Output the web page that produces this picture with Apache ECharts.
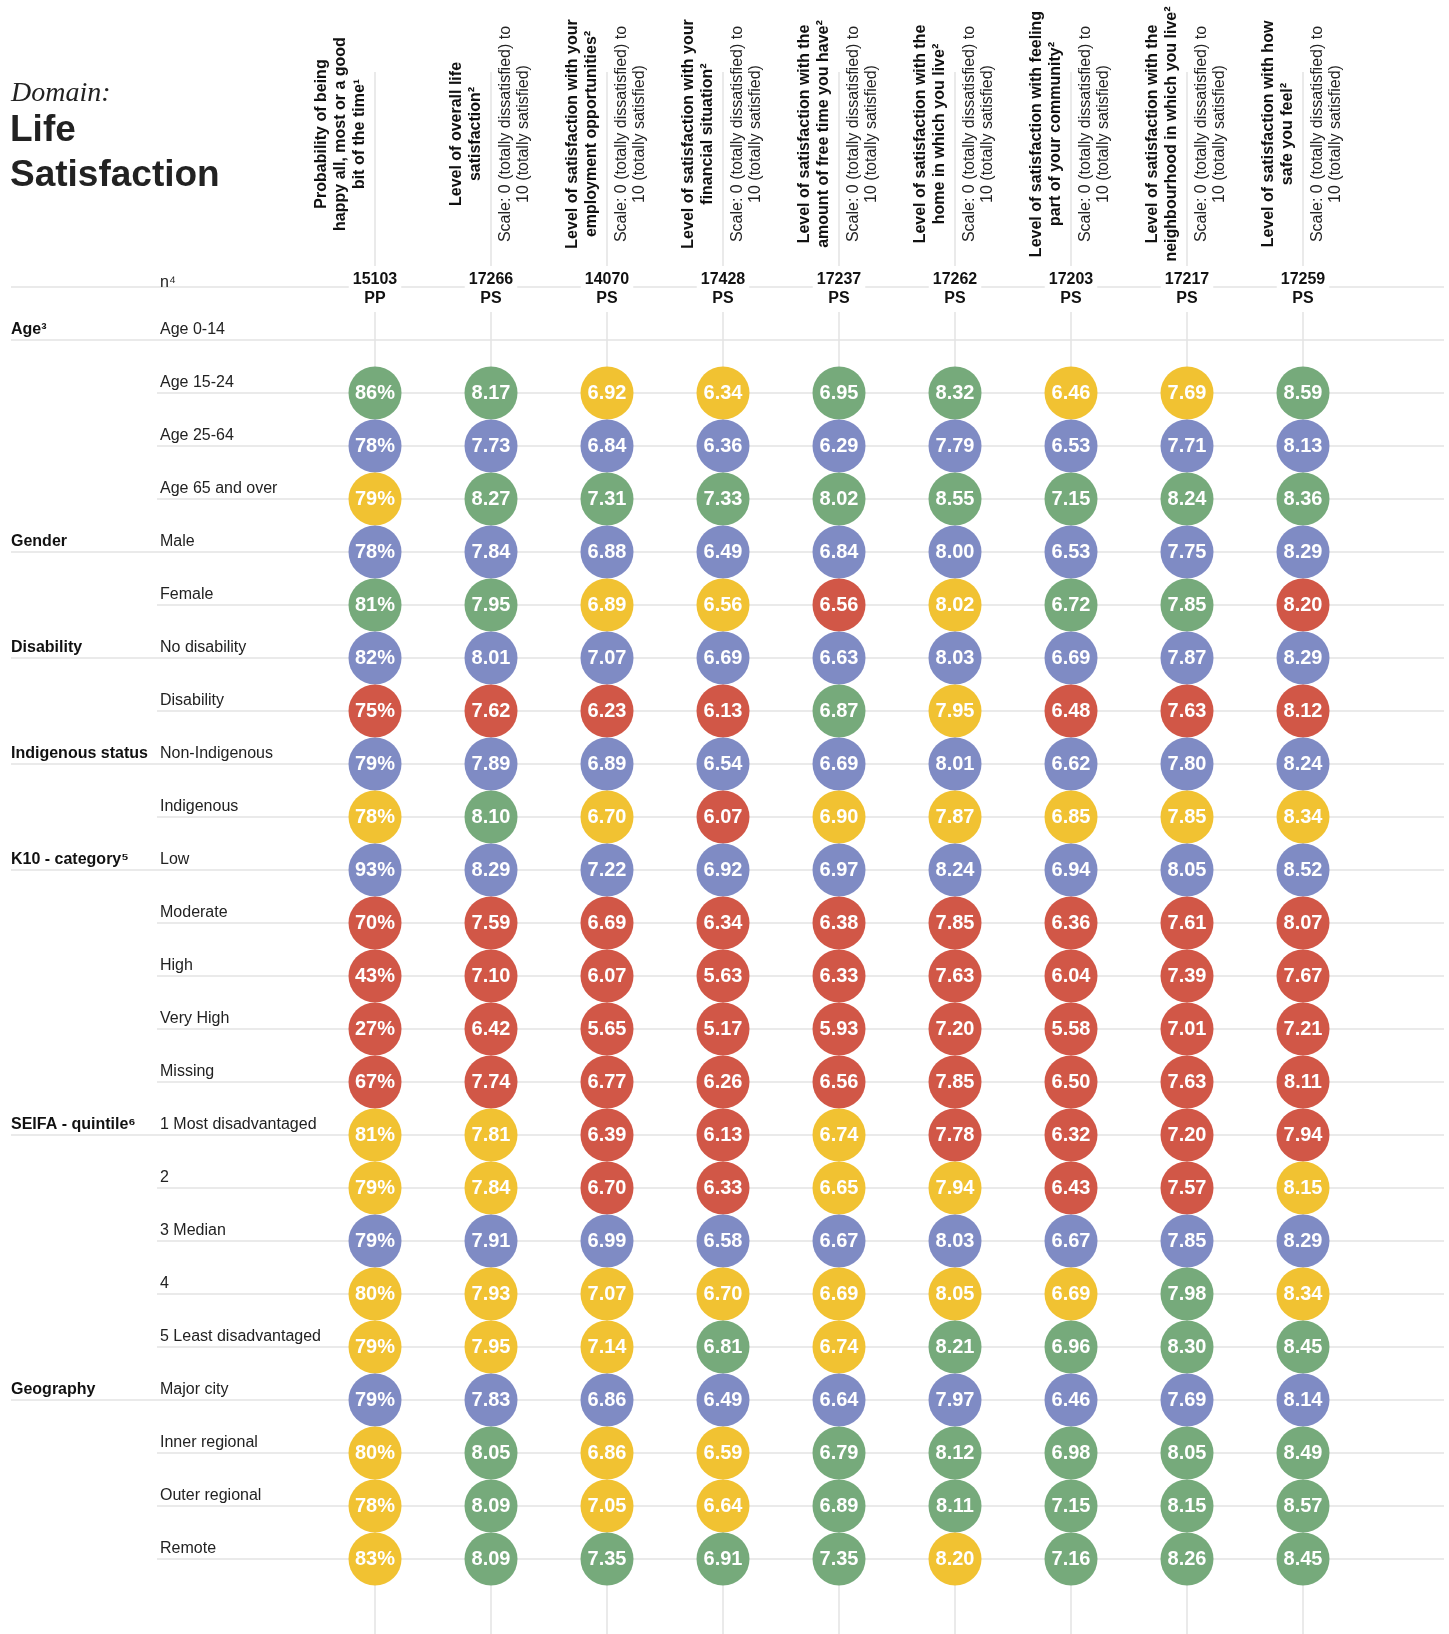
<!DOCTYPE html>
<html>
<head>
<meta charset="utf-8">
<script src="https://cdn.jsdelivr.net/npm/echarts@6/dist/echarts.min.js"></script>
<style>
html,body{margin:0;padding:0;background:#fff;}
#chart{width:1449px;height:1634px;}
</style>
</head>
<body>
<div id="chart"></div>
<script>
// ---------------- DATA ----------------
const rowLabels = ['Age 0-14','Age 15-24','Age 25-64','Age 65 and over','Male','Female','No disability','Disability',
  'Non-Indigenous','Indigenous','Low','Moderate','High','Very High','Missing','1 Most disadvantaged','2','3 Median','4',
  '5 Least disadvantaged','Major city','Inner regional','Outer regional','Remote'];
const groupLabels = ['Age³','','','','Gender','','Disability','','Indigenous status','','K10 - category⁵','','','','',
  'SEIFA - quintile⁶','','','','','Geography','','',''];

const columnTitles = [
  'Probability of being\nhappy all, most or a good\nbit of the time¹',
  'Level of overall life\nsatisfaction²',
  'Level of satisfaction with your\nemployment opportunities²',
  'Level of satisfaction with your\nfinancial situation²',
  'Level of satisfaction with the\namount of free time you have²',
  'Level of satisfaction with the\nhome in which you live²',
  'Level of satisfaction with feeling\npart of your community²',
  'Level of satisfaction with the\nneighbourhood in which you live²',
  'Level of satisfaction with how\nsafe you feel²'
];
const scaleText = 'Scale: 0 (totally dissatisfied) to\n10 (totally satisfied)';
const columnScales = ['', scaleText, scaleText, scaleText, scaleText, scaleText, scaleText, scaleText, scaleText];
const nCounts = [15103, 17266, 14070, 17428, 17237, 17262, 17203, 17217, 17259];
const measureTypes = ['PP','PS','PS','PS','PS','PS','PS','PS','PS'];

// values per column (row order as rowLabels); null = no estimate
const happyPct      = [null,86,78,79,78,81,82,75,79,78,93,70,43,27,67,81,79,79,80,79,79,80,78,83];
const overallLife   = [null,8.17,7.73,8.27,7.84,7.95,8.01,7.62,7.89,8.10,8.29,7.59,7.10,6.42,7.74,7.81,7.84,7.91,7.93,7.95,7.83,8.05,8.09,8.09];
const employment    = [null,6.92,6.84,7.31,6.88,6.89,7.07,6.23,6.89,6.70,7.22,6.69,6.07,5.65,6.77,6.39,6.70,6.99,7.07,7.14,6.86,6.86,7.05,7.35];
const financial     = [null,6.34,6.36,7.33,6.49,6.56,6.69,6.13,6.54,6.07,6.92,6.34,5.63,5.17,6.26,6.13,6.33,6.58,6.70,6.81,6.49,6.59,6.64,6.91];
const freeTime      = [null,6.95,6.29,8.02,6.84,6.56,6.63,6.87,6.69,6.90,6.97,6.38,6.33,5.93,6.56,6.74,6.65,6.67,6.69,6.74,6.64,6.79,6.89,7.35];
const homeLive      = [null,8.32,7.79,8.55,8.00,8.02,8.03,7.95,8.01,7.87,8.24,7.85,7.63,7.20,7.85,7.78,7.94,8.03,8.05,8.21,7.97,8.12,8.11,8.20];
const community     = [null,6.46,6.53,7.15,6.53,6.72,6.69,6.48,6.62,6.85,6.94,6.36,6.04,5.58,6.50,6.32,6.43,6.67,6.69,6.96,6.46,6.98,7.15,7.16];
const neighbourhood = [null,7.69,7.71,8.24,7.75,7.85,7.87,7.63,7.80,7.85,8.05,7.61,7.39,7.01,7.63,7.20,7.57,7.85,7.98,8.30,7.69,8.05,8.15,8.26];
const safety        = [null,8.59,8.13,8.36,8.29,8.20,8.29,8.12,8.24,8.34,8.52,8.07,7.67,7.21,8.11,7.94,8.15,8.29,8.34,8.45,8.14,8.49,8.57,8.45];

// colour codes per column: G = green, B = blue (reference), Y = yellow, R = red
const happyCode         = [null,'G','B','Y','B','G','B','R','B','Y','B','R','R','R','R','Y','Y','B','Y','Y','B','Y','Y','Y'];
const overallLifeCode   = [null,'G','B','G','B','G','B','R','B','G','B','R','R','R','R','Y','Y','B','Y','Y','B','G','G','G'];
const employmentCode    = [null,'Y','B','G','B','Y','B','R','B','Y','B','R','R','R','R','R','R','B','Y','Y','B','Y','Y','G'];
const financialCode     = [null,'Y','B','G','B','Y','B','R','B','R','B','R','R','R','R','R','R','B','Y','G','B','Y','Y','G'];
const freeTimeCode      = [null,'G','B','G','B','R','B','G','B','Y','B','R','R','R','R','Y','Y','B','Y','Y','B','G','G','G'];
const homeLiveCode      = [null,'G','B','G','B','Y','B','Y','B','Y','B','R','R','R','R','R','Y','B','Y','G','B','G','G','Y'];
const communityCode     = [null,'Y','B','G','B','G','B','R','B','Y','B','R','R','R','R','R','R','B','Y','G','B','G','G','G'];
const neighbourhoodCode = [null,'Y','B','G','B','G','B','R','B','Y','B','R','R','R','R','R','R','B','G','G','B','G','G','G'];
const safetyCode        = [null,'G','B','G','B','R','B','R','B','Y','B','R','R','R','R','R','Y','B','Y','G','B','G','G','G'];

const columnValues = [happyPct, overallLife, employment, financial, freeTime, homeLive, community, neighbourhood, safety];
const columnCodes = [happyCode, overallLifeCode, employmentCode, financialCode, freeTimeCode, homeLiveCode, communityCode, neighbourhoodCode, safetyCode];

// ---------------- STYLE / LAYOUT ----------------
const COLORS = {G:'#76aa7b', B:'#7f8bc4', Y:'#f1c232', R:'#d15747'};
const FONT = '"Liberation Sans", Arial, Helvetica, sans-serif';
const LINE = '#e3e3e3';
const W = 1449, H = 1634;
const COL0 = 375, COLSTEP = 116;
const ROW0 = 340, ROWSTEP = 53.0;
const HEAD_CY = 134;

const chart = echarts.init(document.getElementById('chart'), null, {renderer:'canvas'});

const scatterData = [];
columnValues.forEach((vals, c) => {
  vals.forEach((v, r) => {
    if (v === null) return;
    scatterData.push({value:[c, r, v], itemStyle:{color: COLORS[columnCodes[c][r]], opacity:1}});
  });
});

const option = {
  animation:false,
  backgroundColor:'#fff',
  grid:{left:0, right:0, top:0, bottom:0},
  xAxis:{type:'value', min:-COL0/COLSTEP, max:(W-COL0)/COLSTEP, show:false},
  yAxis:{type:'value', min:-ROW0/ROWSTEP, max:(H-ROW0)/ROWSTEP, inverse:true, show:false},
  graphic:[
    {type:'text', x:11, y:94, z:1, style:{text:'Domain:', font:'italic 28px "Liberation Serif", "Times New Roman", serif', fill:'#222', verticalAlign:'middle'}},
    {type:'text', x:10, y:131, z:1, style:{text:'Life', font:'bold 37px '+FONT, fill:'#222', verticalAlign:'middle'}},
    {type:'text', x:10, y:176, z:1, style:{text:'Satisfaction', font:'bold 37px '+FONT, fill:'#222', verticalAlign:'middle'}},
    {type:'line', z:0, shape:{x1:11, y1:287, x2:1444, y2:287}, style:{stroke:LINE, lineWidth:1.5}},
    {type:'text', x:160, y:283, z:1, style:{text:'n⁴', font:'16px '+FONT, fill:'#222', verticalAlign:'middle'}}
  ],
  series:[
    { // row lines and labels
      type:'custom', z:1, silent:true,
      data: rowLabels.map((l, r) => [0, r]),
      renderItem(params, api){
        const r = api.value(1);
        const y = api.coord([0, r])[1];
        const x0 = groupLabels[r] ? 11 : 157;
        const children = [
          {type:'line', shape:{x1:x0, y1:y, x2:1444, y2:y}, style:{stroke:LINE, lineWidth:1.5}},
          {type:'text', x:160, y:y-10, style:{text:rowLabels[r], font:'16px '+FONT, fill:'#222', verticalAlign:'middle'}}
        ];
        if (groupLabels[r]) children.push({type:'text', x:11, y:y-10, style:{text:groupLabels[r], font:'bold 16px '+FONT, fill:'#111', verticalAlign:'middle'}});
        return {type:'group', children};
      }
    },
    { // column lines, headers, n counts
      type:'custom', z:2, silent:true,
      data: columnTitles.map((t, c) => [c, 0]),
      renderItem(params, api){
        const c = api.value(0);
        const x = api.coord([c, 0])[0];
        const children = [
          {type:'line', shape:{x1:x, y1:72, x2:x, y2:H}, style:{stroke:LINE, lineWidth:1.5}},
          {type:'text', x:x-6, y:HEAD_CY, rotation:Math.PI/2,
            style:{text:columnTitles[c], font:'bold 16px '+FONT, fill:'#111', align:'center', verticalAlign:'bottom', lineHeight:19}},
          {type:'text', x:x, y:289,
            style:{text:nCounts[c]+'\n'+measureTypes[c], font:'bold 16px '+FONT, fill:'#111', align:'center', verticalAlign:'middle', lineHeight:19, backgroundColor:'#fff', padding:[4,4]}}
        ];
        if (columnScales[c]) children.push({type:'text', x:x+6, y:HEAD_CY, rotation:Math.PI/2,
            style:{text:columnScales[c], font:'16px '+FONT, fill:'#222', align:'center', verticalAlign:'top', lineHeight:18}});
        return {type:'group', children};
      }
    },
    {
      type:'scatter', z:5, silent:true,
      symbol:'circle', symbolSize:53,
      data: scatterData,
      emphasis:{disabled:true},
      label:{show:true, position:'inside', color:'#fff', fontFamily:FONT, fontWeight:'bold', fontSize:20,
        formatter: p => p.value[0] === 0 ? p.value[2] + '%' : p.value[2].toFixed(2)}
    }
  ]
};
chart.setOption(option);
</script>
</body>
</html>
